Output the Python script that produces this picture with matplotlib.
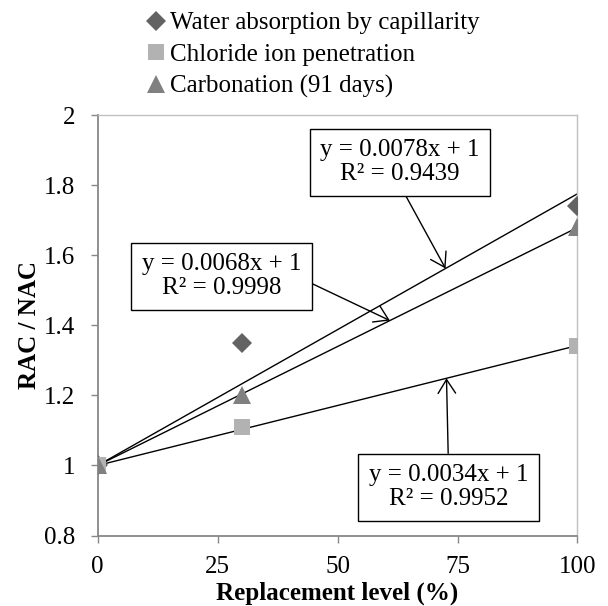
import numpy as np
import matplotlib.pyplot as plt
from matplotlib.transforms import blended_transform_factory

plt.rcParams['font.family'] = ['Liberation Serif', 'DejaVu Serif']
plt.rcParams['font.size'] = 18

# replacement level (%) and RAC/NAC ratios
levels = [0, 30, 100]
water_abs = [1.0, 1.35, 1.74]
chloride = [1.0, 1.11, 1.34]
carbonation = [1.0, 1.20, 1.68]

labels = ['Water absorption by capillarity',
          'Chloride ion penetration',
          'Carbonation (91 days)']

x_ticks = [0, 25, 50, 75, 100]
y_ticks = [0.8, 1.0, 1.2, 1.4, 1.6, 1.8, 2.0]
y_tick_labels = ['0.8', '1', '1.2', '1.4', '1.6', '1.8', '2']


def fit_through_one(x, y):
    """Least squares slope for y = a*x + 1, plus R^2."""
    x = np.asarray(x, float)
    y = np.asarray(y, float)
    a = np.sum(x * (y - 1)) / np.sum(x * x)
    pred = a * x + 1
    r2 = 1 - np.sum((y - pred) ** 2) / np.sum((y - y.mean()) ** 2)
    return a, r2


fig = plt.figure(figsize=(6.08, 6.06), dpi=100)
ax = fig.add_axes([0.1607, 0.1163, 0.7891, 0.6939])

series = [
    (water_abs, 'D', 10.5, '#636363'),
    (chloride, 's', 12, '#b2b2b2'),
    (carbonation, '^', 13.5, '#808080'),
]

handles = []
for (vals, marker, ms, color), lab in zip(series, labels):
    h, = ax.plot(levels, vals, linestyle='none', marker=marker, markersize=ms,
                 color=color, markeredgewidth=0, label=lab, zorder=3)
    handles.append(h)

# trend lines forced through (0, 1)
slopes = {}
xs = np.array([0, 100])
for name, vals in [('water', water_abs), ('chloride', chloride), ('carb', carbonation)]:
    a, r2 = fit_through_one(levels, vals)
    slopes[name] = a
    ax.plot(xs, a * xs + 1, color='black', lw=1.0, zorder=2)

# equation callouts: (text, box centre, arrow tip x, slope key, relpos)
callouts = [
    ('y = 0.0078x + 1\nR² = 0.9439', (63.0, 1.865), 72.5, 'water', (0.5, 0.0)),
    ('y = 0.0068x + 1\nR² = 0.9998', (25.8, 1.540), 60.9, 'carb', (1.0, 0.45)),
    ('y = 0.0034x + 1\nR² = 0.9952', (73.1, 0.938), 72.7, 'chloride', (0.5, 1.0)),
]
for txt, (bx, by), tip_x, key, rp in callouts:
    tip_y = slopes[key] * tip_x + 1
    ax.annotate(txt, xy=(tip_x, tip_y), xytext=(bx, by),
                ha='center', va='center', fontsize=18, linespacing=1.1,
                bbox=dict(boxstyle='square,pad=0.42', fc='white', ec='black', lw=1.0),
                arrowprops=dict(arrowstyle='->,head_length=0.55,head_width=0.35',
                                color='black', lw=1.0, mutation_scale=18,
                                relpos=rp, shrinkA=0, shrinkB=0),
                zorder=5)

ax.set_xlim(0, 100)
ax.set_ylim(0.8, 2.0)
ax.set_xticks(x_ticks)
ax.set_xticklabels([str(t) for t in x_ticks])
ax.set_yticks(y_ticks)
ax.set_yticklabels(y_tick_labels)

for side in ['left', 'bottom']:
    ax.spines[side].set_color('#878787')
    ax.spines[side].set_linewidth(1.3)
for side in ['top', 'right']:
    ax.spines[side].set_color('#c0c0c0')
    ax.spines[side].set_linewidth(1.0)

ax.tick_params(axis='both', direction='out', length=5, width=1.0, color='#878787',
               labelsize=18)
ax.tick_params(axis='y', pad=11)
ax.tick_params(axis='x', pad=10)

# x label centred under the axes, sitting on the bottom edge of the figure
ax.set_xlabel('Replacement level (%)', fontweight='bold', fontsize=18, va='bottom')
ax.xaxis.set_label_coords(0.5, 1 / 606,
                          transform=blended_transform_factory(ax.transAxes, fig.transFigure))
ax.set_ylabel('RAC / NAC', fontweight='bold', fontsize=18, labelpad=2)

fig.legend(handles=handles, labels=labels, loc='upper left',
           bbox_to_anchor=(148 / 608, 1 - 12 / 606), frameon=False,
           handlelength=0.6, handletextpad=0.3, labelspacing=0.36,
           borderaxespad=0, borderpad=0, fontsize=18)

fig.savefig('out.png', dpi=100)
